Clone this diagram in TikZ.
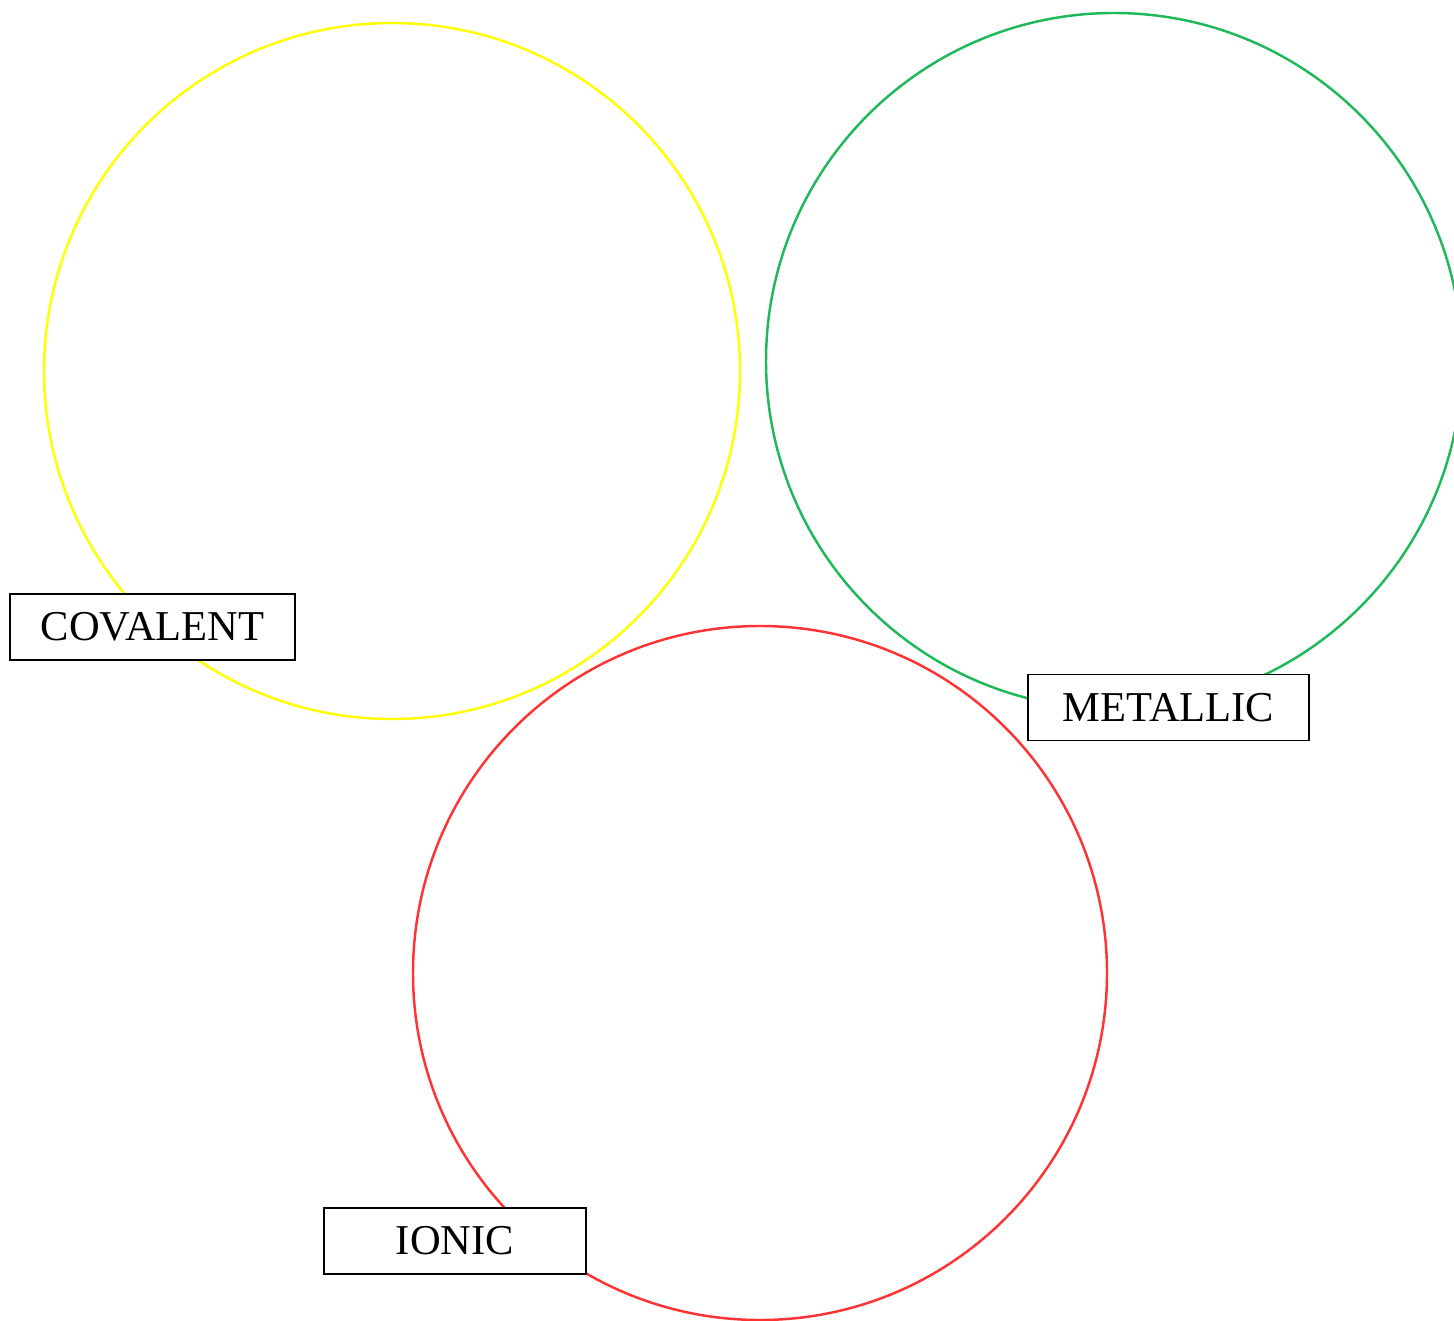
\documentclass[tikz,border=0pt]{standalone}
\usepackage{fontspec}
\setmainfont{Liberation Serif}
\usepackage{tikz}
\usetikzlibrary{positioning}

\definecolor{covyellow}{RGB}{255,255,0}
\definecolor{metgreen}{RGB}{30,185,90}
\definecolor{ionred}{RGB}{255,51,51}

\begin{document}
\begin{tikzpicture}[x=0.02cm, y=-0.02cm,
      every node/.style={font=\fontsize{24.2}{29}\selectfont},
      ring/.style={line width=1.4pt},
      tag/.style={rectangle, draw, fill=white, line width=1.1pt, minimum height=1.32cm, inner sep=0pt}]

      \useasboundingbox (0,0) rectangle (1454,1321);

      % Circles
      \draw[ring, covyellow] (392,371) circle[radius=348];
      \draw[ring, metgreen] (1114,361) circle[radius=348];
      \draw[ring, ionred] (760,973) circle[radius=347];

      % Labels
      \node[tag, minimum width=5.7cm] (covalent) at (152.5,627) {COVALENT};
      \node[tag, minimum width=5.62cm] (metallic) at (1168.5,707.5) {METALLIC};
      \node[tag, minimum width=5.24cm] (ionic) at (455,1241) {IONIC};
    \end{tikzpicture}
\end{document}
